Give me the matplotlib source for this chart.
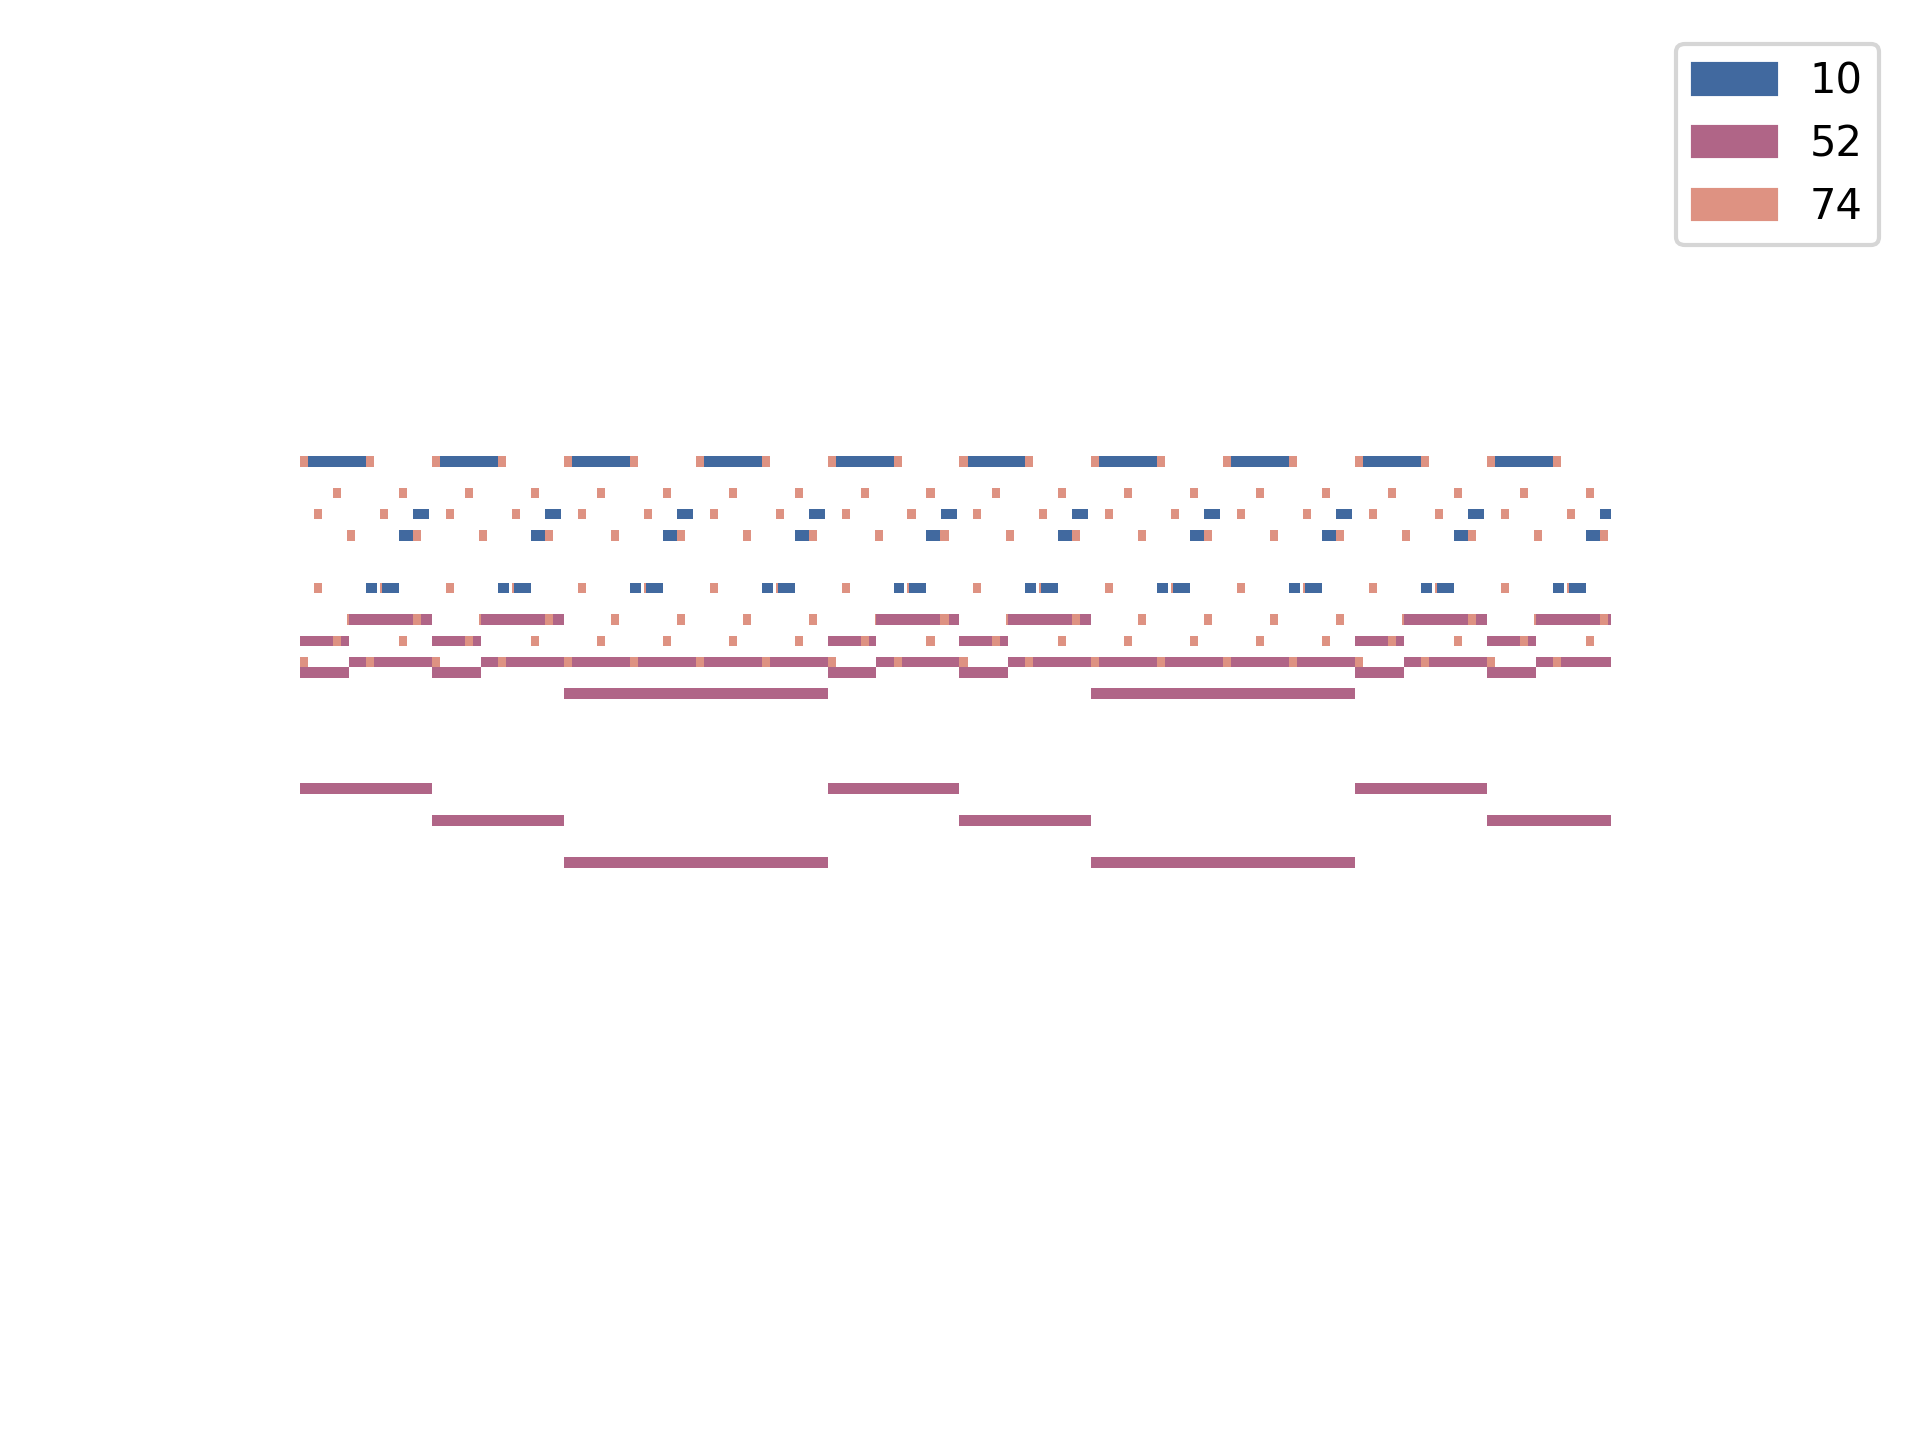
import matplotlib
matplotlib.use("Agg")
import matplotlib.pyplot as plt
from matplotlib.patches import Patch

# ---------------- data (time in bars, pitch in MIDI numbers) ----------------
track_labels = ["10", "52", "74"]
track_colors = ["#41699F", "#B06587", "#DE9282"]

n_bars = 10
song_end = 9.94

# track 10 : one-bar pattern repeated every bar
t10_onsets = [0.0, 0.5, 0.621, 0.75, 0.857]
t10_durs = [0.5, 0.083, 0.129, 0.107, 0.121]
t10_pitches = [86, 74, 74, 79, 81]

# track 74 : one-bar pattern of short notes in two voices
t74_onsets = [0.0, 0.106, 0.25, 0.356, 0.5, 0.606, 0.75, 0.856]
t74_high = [86, 81, 83, 79, 86, 81, 83, 79]
t74_low = [67, 74, 69, 71, 67, 74, 69, 71]
t74_dur = 0.061

# track 52 : chords
chord_G_onsets = [0.0, 0.0, 0.0, 0.371, 0.371]
chord_G_durs = [1.0, 0.371, 0.371, 0.629, 0.629]
chord_G_pitches = [55, 66, 69, 67, 71]
chord_Em_onsets = [0.0, 0.0, 0.0, 0.371, 0.371]
chord_Em_durs = [1.0, 0.371, 0.371, 0.629, 0.629]
chord_Em_pitches = [52, 66, 69, 67, 71]
chord_C_onsets = [0.0, 0.0, 0.0]
chord_C_durs = [2.0, 2.0, 2.0]
chord_C_pitches = [48, 64, 67]
progression = ["G", "Em", "C", "G", "Em", "C", "G", "Em"]
progression_starts = [0, 1, 2, 4, 5, 6, 8, 9]

# ---------------- build note list ----------------
notes = []  # (start, track_index, pitch, duration)
for b in range(n_bars):
    for o, d, p in zip(t10_onsets, t10_durs, t10_pitches):
        notes.append((b + o, 0, p, d))
    for o, ph, pl in zip(t74_onsets, t74_high, t74_low):
        notes.append((b + o, 2, ph, t74_dur))
        notes.append((b + o, 2, pl, t74_dur))

chords = {
    "G": (chord_G_onsets, chord_G_durs, chord_G_pitches),
    "Em": (chord_Em_onsets, chord_Em_durs, chord_Em_pitches),
    "C": (chord_C_onsets, chord_C_durs, chord_C_pitches),
}
for name, s in zip(progression, progression_starts):
    ons, durs, ps = chords[name]
    for o, d, p in zip(ons, durs, ps):
        notes.append((s + o, 1, p, d))

# later onsets are drawn on top
notes.sort(key=lambda n: (n[0], n[1]))

# ---------------- figure ----------------
fig = plt.figure(figsize=(6.4, 4.8), dpi=300)
ax = fig.add_axes([300 / 1920, 1 - 868 / 1440, (1611 - 300) / 1920, (868 - 456) / 1440])

for z, (start, ti, pitch, dur) in enumerate(notes):
    ax.barh(pitch, dur, left=start, height=1.0, color=track_colors[ti],
            linewidth=0, zorder=2 + z * 1e-4)

all_pitches = t10_pitches + t74_high + t74_low + chord_G_pitches + chord_Em_pitches + chord_C_pitches
ax.set_xlim(0, song_end)
ax.set_ylim(min(all_pitches) - 0.5, max(all_pitches) + 0.5)
ax.axis("off")

handles = [Patch(color=c) for c in track_colors]
fig.legend(handles, track_labels, loc="upper right",
           bbox_to_anchor=(1900 / 1920, 1 - 23 / 1440), fontsize=10)

fig.savefig("out.png", dpi=300)
